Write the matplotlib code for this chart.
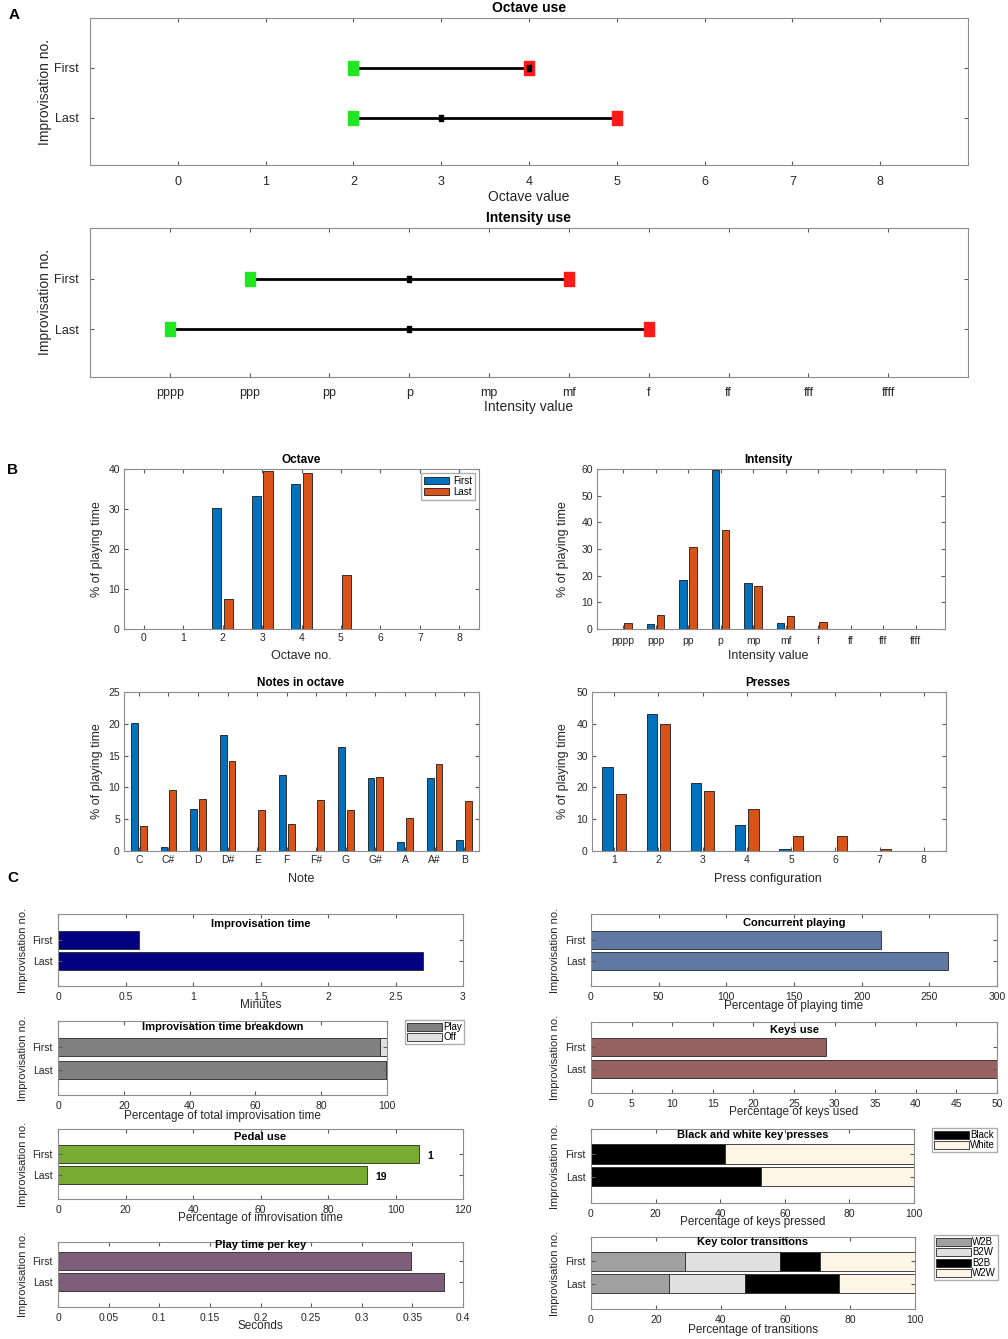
import numpy as np
import matplotlib.pyplot as plt
from matplotlib.ticker import FuncFormatter

plt.rcParams['font.family'] = ['Liberation Sans', 'DejaVu Sans']

# ---- data ----
improv = ['First', 'Last']

octave_min = [2, 2]
octave_med = [4, 3]
octave_max = [4, 5]

intensity_names = ['pppp', 'ppp', 'pp', 'p', 'mp', 'mf', 'f', 'ff', 'fff', 'ffff']
intensity_min = [1, 0]
intensity_med = [3, 3]
intensity_max = [5, 6]

octave_nos = [0, 1, 2, 3, 4, 5, 6, 7, 8]
octave_first = [0, 0, 30.3, 33.3, 36.3, 0, 0, 0, 0]
octave_last = [0, 0, 7.5, 39.6, 39.0, 13.5, 0, 0, 0]

int_first = [0, 2.0, 18.5, 59.5, 17.3, 2.3, 0, 0, 0, 0]
int_last = [2.2, 5.2, 30.6, 37.0, 16.3, 5.0, 2.8, 0, 0, 0]

note_names = ['C', 'C#', 'D', 'D#', 'E', 'F', 'F#', 'G', 'G#', 'A', 'A#', 'B']
note_first = [20.1, 0.6, 6.6, 18.2, 0, 12.0, 0, 16.4, 11.5, 1.4, 11.4, 1.7]
note_last = [4.0, 9.6, 8.2, 14.2, 6.5, 4.3, 8.0, 6.5, 11.7, 5.2, 13.7, 7.9]

press_configs = [1, 2, 3, 4, 5, 6, 7, 8]
press_first = [26.5, 43.0, 21.5, 8.3, 0.6, 0, 0, 0]
press_last = [17.8, 40.0, 19.0, 13.3, 4.6, 4.6, 0.6, 0]

improv_minutes = [0.6, 2.7]
play_pct = [98.0, 99.7]
off_pct = [2.0, 0.3]
pedal_pct = [107.0, 91.5]
pedal_presses = [1, 19]
time_per_key = [0.349, 0.381]
concurrent_pct = [214, 264]
keys_used_pct = [29.0, 50.0]
black_pct = [41.5, 52.5]
white_pct = [58.5, 47.5]
w2b = [29.0, 24.0]
b2w = [29.3, 23.5]
b2b = [12.5, 29.0]
w2w = [29.2, 23.5]

BLUE = '#0072BD'
ORANGE = '#D95319'
TXT = '0.15'

W, H = 1008, 1339
fig = plt.figure(figsize=(W / 100, H / 100), dpi=100)


def px_axes(l, t, r, b):
    return fig.add_axes([l / W, 1 - b / H, (r - l) / W, (b - t) / H])


def ptext(x, y, s, **kw):
    kw.setdefault('ha', 'center')
    kw.setdefault('va', 'center')
    kw.setdefault('color', TXT)
    fig.text(x / W, 1 - y / H, s, **kw)


def matlab_style(ax, fs, pad=3):
    for sp in ax.spines.values():
        sp.set_color('0.55')
        sp.set_linewidth(0.8)
    ax.tick_params(direction='in', top=True, right=True, labelsize=fs,
                   color='0.35', labelcolor=TXT, length=3, pad=pad)


def baseline_labels(ax, pad):
    # keep text labels such as pppp / mf on one baseline
    ax.tick_params(axis='x', pad=pad)
    for lbl in ax.get_xticklabels():
        lbl.set_va('baseline')


gfmt = FuncFormatter(lambda v, p: '%g' % v)

# ---- panel A ----
rect = [(-0.33, -0.5), (0.33, -0.5), (0.33, 0.5), (-0.33, 0.5), (-0.33, -0.5)]
ptext(14, 15, 'A', fontsize=11, fontweight='bold', color='k')
panelA = [
    ((90, 18, 968, 165), octave_min, octave_med, octave_max, 'Octave use',
     'Octave value', list(range(9)), [str(i) for i in range(9)], (-1, 9), 8, 197, 92),
    ((90, 228, 968, 377), intensity_min, intensity_med, intensity_max, 'Intensity use',
     'Intensity value', list(range(10)), intensity_names, (-1, 10), 218, 407, 302),
]
for k, (box, lo, md, hi, title, xl, xt, xtl, xlim, ty, xly, yly) in enumerate(panelA):
    ax = px_axes(*box)
    for i, y in enumerate([1, 2]):
        ax.plot([lo[i], hi[i]], [y, y], color='k', lw=2, zorder=2)
        ax.plot(lo[i], y, marker=rect, ms=10, color='#22e622', zorder=3)
        ax.plot(hi[i], y, marker=rect, ms=10, color='#ff1a1a', zorder=3)
        ax.plot(md[i], y, marker=rect, ms=5, color='k', zorder=4)
    ax.set_xlim(*xlim)
    ax.set_ylim(2.95, 0)
    ax.set_xticks(xt)
    ax.set_xticklabels(xtl)
    ax.set_yticks([1, 2])
    ax.set_yticklabels(improv)
    matlab_style(ax, 9, pad=8)
    if k == 1:
        baseline_labels(ax, 13.5)
    ptext(529, ty, title, fontsize=10, fontweight='bold', color='k')
    ptext(529, xly, xl, fontsize=10)
    ptext(45, yly, 'Improvisation no.', fontsize=10, rotation=90)

# ---- panel B ----
ptext(13, 470, 'B', fontsize=11, fontweight='bold', color='k')
panelB = [
    ((124, 469, 479, 629), octave_nos, octave_first, octave_last, octave_nos,
     (-0.5, 8.5), (0, 40), 'Octave', 'Octave no.', 301, 460, 656, 97),
    ((597, 469, 945, 629), list(range(10)), int_first, int_last, intensity_names,
     (-0.8, 9.9), (0, 60), 'Intensity', 'Intensity value', 768, 460, 656, 563),
    ((124, 692, 479, 851), list(range(12)), note_first, note_last, note_names,
     (-0.5, 11.5), (0, 25), 'Notes in octave', 'Note', 301, 683, 879, 97),
    ((592, 692, 946, 851), press_configs, press_first, press_last, press_configs,
     (0.5, 8.5), (0, 50), 'Presses', 'Press configuration', 768, 683, 879, 563),
]
for k, (box, x, f, l, labels, xlim, ylim, title, xl, cx, ty, xly, ylx) in enumerate(panelB):
    ax = px_axes(*box)
    x = np.array(x)
    ax.bar(x - 0.15, f, 0.23, color=BLUE, edgecolor='0.1', lw=0.6, label='First')
    ax.bar(x + 0.15, l, 0.23, color=ORANGE, edgecolor='0.1', lw=0.6, label='Last')
    ax.set_xlim(*xlim)
    ax.set_ylim(*ylim)
    ax.set_xticks(x)
    ax.set_xticklabels(labels)
    matlab_style(ax, 7.5)
    if k == 1:
        baseline_labels(ax, 10.5)
    ptext(cx, ty, title, fontsize=8.5, fontweight='bold', color='k')
    ptext(cx, xly, xl, fontsize=9)
    ptext(ylx, (box[1] + box[3]) / 2, '% of playing time', fontsize=9, rotation=90)
    if k == 0:
        ax.legend(loc='upper right', fontsize=7, handlelength=2.6, fancybox=False,
                  edgecolor='0.6', borderpad=0.3, labelspacing=0.15,
                  handletextpad=0.4, borderaxespad=0.4)

# ---- panel C ----
ptext(13, 878, 'C', fontsize=11, fontweight='bold', color='k')


def hbar_axes(box, ylim, title, title_y, xlabel, xly, xlim, xticks, ylx):
    ax = px_axes(*box)
    ax.set_xlim(*xlim)
    ax.set_xticks(xticks)
    ax.xaxis.set_major_formatter(gfmt)
    ax.set_ylim(*ylim)
    ax.set_yticks([1, 2])
    ax.set_yticklabels(improv)
    matlab_style(ax, 7.5, pad=4)
    ax.text(0.5, title_y, title, transform=ax.transAxes, ha='center', va='center',
            fontsize=8, fontweight='bold', color='k')
    ptext((box[0] + box[2]) / 2, xly, xlabel, fontsize=8.5)
    ptext(ylx, (box[1] + box[3]) / 2, 'Improvisation no.', fontsize=8, rotation=90)
    return ax


def side_legend(ax, x, y):
    ax.legend(loc='upper left', bbox_to_anchor=(x / W, 1 - y / H), bbox_transform=fig.transFigure,
              fontsize=7, handlelength=3.6, handleheight=0.9, fancybox=False, edgecolor='0.6',
              borderpad=0.2, labelspacing=0.05, handletextpad=0.15, borderaxespad=0)


yb = [1, 2]
ec = dict(edgecolor='0.15', lw=0.6)

ax = hbar_axes((58, 914, 463, 986), (3.2, -0.25), 'Improvisation time', 0.86,
               'Minutes', 1005, (0, 3), np.arange(0, 3.01, 0.5), 23)
ax.barh(yb, improv_minutes, 0.85, color='#000080', **ec)

ax = hbar_axes((58, 1021, 387, 1095), (3.07, -0.12), 'Improvisation time breakdown', 0.92,
               'Percentage of total improvisation time', 1116, (0, 100), range(0, 101, 20), 23)
ax.barh(yb, play_pct, 0.8, color='#808080', label='Play', **ec)
ax.barh(yb, off_pct, 0.8, left=play_pct, color='#E0E0E0', label='Off', **ec)
side_legend(ax, 405, 1020)

ax = hbar_axes((58, 1129, 463, 1199), (3.11, -0.19), 'Pedal use', 0.88,
               'Percentage of imrovisation time', 1218, (0, 120), range(0, 121, 20), 23)
ax.barh(yb, pedal_pct, 0.85, color='#77AC30', **ec)
for y, v, n in zip(yb, pedal_pct, pedal_presses):
    ax.text(v + 2.5, y + 0.08, str(n), ha='left', va='center', fontsize=7.5,
            fontweight='bold', color='k')

ax = hbar_axes((58, 1242, 463, 1307), (3.19, 0.1), 'Play time per key', 0.96,
               'Seconds', 1326, (0, 0.4), np.arange(0, 0.401, 0.05), 23)
ax.barh(yb, time_per_key, 0.85, color='#7E5E7A', **ec)

ax = hbar_axes((591, 914, 997, 986), (3.2, -0.25), 'Concurrent playing', 0.87,
               'Percentage of playing time', 1006, (0, 300), range(0, 301, 50), 555)
ax.barh(yb, concurrent_pct, 0.85, color='#6078A4', **ec)

ax = hbar_axes((591, 1022, 997, 1093), (3.15, -0.2), 'Keys use', 0.89,
               'Percentage of keys used', 1112, (0, 50), range(0, 51, 5), 555)
ax.barh(yb, keys_used_pct, 0.85, color='#966262', **ec)

ax = hbar_axes((591, 1129, 914, 1203), (3.15, -0.1), 'Black and white key presses', 0.92,
               'Percentage of keys pressed', 1222, (0, 100), range(0, 101, 20), 555)
ax.barh(yb, black_pct, 0.85, color='#000000', label='Black', **ec)
ax.barh(yb, white_pct, 0.85, left=black_pct, color='#FDF5E6', label='White', **ec)
side_legend(ax, 932, 1128)

ax = hbar_axes((591, 1237, 915, 1309), (3.15, -0.1), 'Key color transitions', 0.93,
               'Percentage of transitions', 1330, (0, 100), range(0, 101, 20), 555)
left = np.zeros(2)
for vals, col, lab in [(w2b, '#A0A0A0', 'W2B'), (b2w, '#E0E0E0', 'B2W'),
                       (b2b, '#000000', 'B2B'), (w2w, '#FDF5E6', 'W2W')]:
    ax.barh(yb, vals, 0.85, left=left, color=col, label=lab, **ec)
    left = left + np.array(vals)
side_legend(ax, 934, 1235)

fig.savefig('out.png', dpi=100)
